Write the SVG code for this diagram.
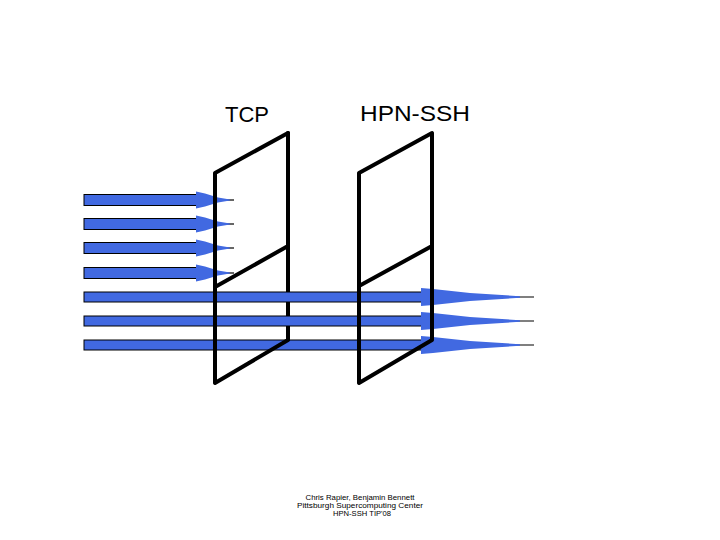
<svg xmlns="http://www.w3.org/2000/svg" width="720" height="540" viewBox="0 0 720 540">
<defs>
<style>
.shaft{fill:#4169e1;stroke:#000;stroke-width:1}
.head{fill:#4169e1;stroke:none}
.tipline{stroke:#000;stroke-width:1.2}
.frame{fill:none;stroke:#000;stroke-width:4;stroke-linejoin:round;stroke-linecap:round}
.title{font-family:"Liberation Sans",Arial,sans-serif;font-size:22px;fill:#000}
.foot{font-family:"Liberation Sans",Arial,sans-serif;font-size:7px;fill:#000;text-anchor:middle}
</style>
<g id="shortArrow">
<line class="tipline" x1="222" y1="0" x2="234" y2="0"/>
<rect class="shaft" x="84" y="-5.5" width="114" height="11"/>
<polygon class="head" points="196,-8.5 205,-6.5 218,-2.5 230,-0.5 230,0.5 218,2.5 205,6.5 196,8.5"/>
</g>
<g id="longArrow">
<line class="tipline" x1="495" y1="0" x2="534" y2="0"/>
<rect class="shaft" x="84" y="-5" width="340" height="10"/>
<polygon class="head" points="421,-9 433,-8 470,-4 520,-0.8 520,0.8 470,4 433,8 421,9"/>
</g>
</defs>
<rect width="720" height="540" fill="#fff"/>
<g id="labels">
<text class="title" x="225" y="122" textLength="44" lengthAdjust="spacingAndGlyphs">TCP</text>
<text class="title" x="360" y="121" textLength="110" lengthAdjust="spacingAndGlyphs">HPN-SSH</text>
</g>
<g id="tcp-frame-back">
<polyline class="frame" points="288,133 288,340"/>
</g>
<g id="connectors">
<use href="#shortArrow" y="200"/>
<use href="#shortArrow" y="224"/>
<use href="#shortArrow" y="248"/>
<use href="#shortArrow" y="273"/>
<use href="#longArrow" y="297"/>
<use href="#longArrow" y="321"/>
<use href="#longArrow" y="345"/>
</g>
<g id="tcp-frame">
<polyline class="frame" points="288,340 215,383 215,173 288,133"/>
<line class="frame" x1="215" y1="287" x2="288" y2="246"/>
</g>
<g id="hpn-frame">
<polygon class="frame" points="359,173 432,133 432,340 359,383"/>
<line class="frame" x1="359" y1="286" x2="432" y2="246"/>
</g>
<g id="footer">
<text class="foot" x="360" y="500" textLength="109" lengthAdjust="spacingAndGlyphs">Chris Rapier, Benjamin Bennett</text>
<text class="foot" x="360" y="508" textLength="126" lengthAdjust="spacingAndGlyphs">Pittsburgh Supercomputing Center</text>
<text class="foot" x="362" y="516" textLength="58" lengthAdjust="spacingAndGlyphs">HPN-SSH TIP'08</text>
</g>
</svg>
